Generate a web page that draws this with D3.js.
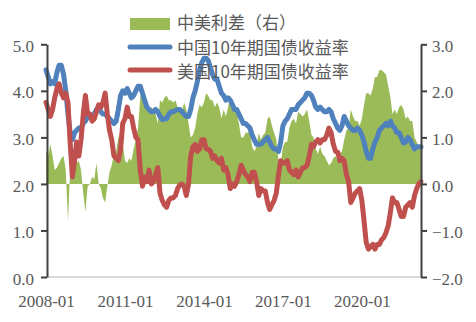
<!DOCTYPE html>
<html><head><meta charset="utf-8">
<script src="https://cdn.jsdelivr.net/npm/d3@7"></script>
<style>body{margin:0;background:#fff}</style>
</head><body>
<svg id="c" width="476" height="322"></svg>
<script>
// ---- data (monthly, 2008-01 .. 2022-04) ----
const startMonth = "2008-01";
const endMonth = "2022-04";
const cn10y = [
4.45,4.30,4.15,4.20,4.15,4.40,4.55,4.55,4.35,4.00,3.50,3.10,
2.95,3.10,3.15,3.20,3.20,3.30,3.35,3.45,3.50,3.45,3.50,3.60,
3.65,3.55,3.50,3.50,3.45,3.40,3.35,3.30,3.35,3.60,3.90,4.00,
3.95,4.05,3.95,3.85,3.90,4.00,4.10,4.10,3.95,3.80,3.65,3.60,
3.55,3.55,3.60,3.55,3.45,3.38,3.40,3.40,3.50,3.55,3.55,3.58,
3.60,3.60,3.55,3.50,3.45,3.45,3.60,3.85,4.00,4.20,4.45,4.60,
4.70,4.70,4.65,4.50,4.35,4.25,4.25,4.10,3.95,3.90,3.80,3.85,
3.80,3.70,3.60,3.60,3.50,3.40,3.30,3.30,3.25,3.20,3.05,2.95,
2.85,2.85,2.85,2.90,2.95,3.00,2.90,2.80,2.75,2.75,2.70,2.90,
3.25,3.35,3.40,3.50,3.60,3.60,3.60,3.70,3.75,3.80,3.85,3.95,
3.95,3.90,3.80,3.65,3.60,3.65,3.60,3.55,3.55,3.60,3.55,3.40,
3.30,3.20,3.15,3.25,3.45,3.35,3.25,3.20,3.15,3.15,3.20,3.15,
3.05,2.90,2.70,2.55,2.55,2.75,2.90,3.00,3.15,3.20,3.25,3.30,
3.25,3.35,3.25,3.20,3.10,3.10,3.00,2.88,2.90,3.00,2.95,2.85,
2.75,2.80,2.80,2.80];
const us10y = [
3.75,3.60,3.45,3.60,3.85,4.05,4.15,3.95,3.85,3.95,3.75,2.90,
2.15,2.50,2.90,2.60,2.95,3.50,3.90,3.50,3.50,3.35,3.40,3.55,
3.70,3.65,3.75,3.95,3.50,3.15,2.95,2.60,2.55,2.50,2.75,3.30,
3.40,3.65,3.45,3.45,3.20,3.00,2.95,2.30,1.95,2.15,2.05,2.30,
2.00,2.05,2.20,2.35,1.80,1.65,1.55,1.50,1.65,1.70,1.70,1.75,
1.90,1.98,2.00,1.95,1.75,2.00,2.60,2.80,2.85,2.70,2.75,2.95,
2.95,2.75,2.75,2.70,2.55,2.60,2.50,2.45,2.55,2.30,2.35,2.20,
1.90,2.00,1.95,2.05,2.20,2.40,2.30,2.20,2.15,2.05,2.25,2.25,
2.05,1.75,1.90,1.85,1.85,1.60,1.45,1.55,1.65,1.80,2.20,2.50,
2.45,2.45,2.50,2.30,2.25,2.20,2.30,2.15,2.25,2.35,2.35,2.40,
2.60,2.85,2.80,2.90,2.95,2.88,2.95,2.95,3.05,3.20,3.10,2.85,
2.70,2.68,2.50,2.55,2.50,2.20,2.05,1.60,1.70,1.80,1.85,1.90,
1.65,1.20,0.75,0.60,0.65,0.70,0.60,0.70,0.70,0.80,0.85,0.95,
1.10,1.40,1.70,1.60,1.60,1.45,1.30,1.30,1.50,1.55,1.60,1.50,
1.75,1.90,2.00,2.05];
const spread = [
0.70,0.60,0.85,0.60,0.30,0.35,0.45,0.55,0.60,0.30,-0.80,0.30,
0.80,0.60,0.45,0.50,0.30,-0.20,-0.60,-0.05,0.00,0.15,0.10,0.45,
0.00,-0.10,-0.30,-0.40,-0.05,0.25,0.40,0.65,0.70,1.00,1.10,0.85,
0.50,0.45,0.55,0.50,0.75,0.95,1.20,1.85,2.15,1.70,1.75,1.55,
1.65,1.60,1.50,1.30,1.80,1.75,1.85,1.90,1.80,1.80,1.75,1.80,
1.65,1.60,1.55,1.75,1.60,1.30,1.00,1.05,1.20,1.50,1.70,1.65,
1.75,1.95,1.90,1.80,1.80,1.65,1.75,1.65,1.40,1.60,1.45,1.65,
1.90,1.70,1.65,1.55,1.30,1.00,1.00,1.10,1.10,1.15,0.80,0.70,
0.80,1.10,0.95,1.05,1.10,1.40,1.45,1.25,1.10,0.95,0.50,0.40,
0.80,0.90,0.90,1.20,1.35,1.40,1.30,1.55,1.50,1.45,1.50,1.60,
1.35,1.05,1.00,0.75,0.65,0.80,0.65,0.60,0.50,0.40,0.45,0.55,
0.60,0.50,0.65,0.70,0.95,1.15,1.20,1.60,1.45,1.35,1.35,1.25,
1.40,1.70,1.95,1.95,1.90,2.05,2.30,2.30,2.45,2.45,2.40,2.35,
2.10,1.85,1.50,1.60,1.50,1.65,1.70,1.60,1.40,1.45,1.35,1.35,
1.00,0.90,0.80,0.75];
const xTickLabels = ["2008-01","2011-01","2014-01","2017-01","2020-01"];
const leftTicks = [0,1,2,3,4,5];
const rightTicks = [-2,-1,0,1,2,3];
const seriesNames = ["中美利差（右）","中国10年期国债收益率","美国10年期国债收益率"];

// ---- styles ----
const GREEN = "#9BBB59", BLUE = "#4F81BD", RED = "#C0504D";
const AXIS = "#404040", TXT = "#595959";
const NUMFONT = "'Liberation Serif', serif";
const CJKFONT = "'Noto Sans CJK SC', sans-serif";

const parseM = d3.timePeriod ? null : null;
const pm = d3.timeParse("%Y-%m");
const months = d3.timeMonth.range(pm(startMonth), d3.timeMonth.offset(pm(endMonth), 1));

const svg = d3.select("#c");
const x = d3.scaleTime().domain([pm(startMonth), pm(endMonth)]).range([46, 421]);
const yL = d3.scaleLinear().domain([0, 5]).range([277, 44.3]);
const yR = d3.scaleLinear().domain([-2, 3]).range([277, 44.3]);

// baseline
svg.append("line").attr("x1", 47).attr("x2", 421).attr("y1", yL(0)).attr("y2", yL(0))
  .attr("stroke", "#d9d9d9").attr("stroke-width", 2);

// green area (right axis)
const area = d3.area().x((d, i) => x(months[i])).y0(yR(0)).y1(d => yR(d));
svg.append("path").datum(spread).attr("d", area).attr("fill", GREEN);

// lines (left axis)
const line = d3.line().x((d, i) => x(months[i])).y(d => yL(d));
svg.append("path").datum(cn10y).attr("d", line).attr("fill", "none")
  .attr("stroke", BLUE).attr("stroke-width", 5).attr("stroke-linejoin", "round").attr("stroke-linecap", "round");
svg.append("path").datum(us10y).attr("d", line).attr("fill", "none")
  .attr("stroke", RED).attr("stroke-width", 5).attr("stroke-linejoin", "round").attr("stroke-linecap", "round");

// axes
function styleAxis(g) {
  g.select(".domain").attr("stroke", AXIS).attr("stroke-width", 2);
  g.selectAll(".tick line").attr("stroke", AXIS).attr("stroke-width", 2);
  g.selectAll(".tick text").attr("fill", TXT).attr("font-family", NUMFONT).attr("font-size", 17).attr("dy", "0.42em");
}
const fmt = d3.format(".1f");
svg.append("g").attr("transform", "translate(47,0)")
  .call(d3.axisLeft(yL).tickValues(leftTicks).tickFormat(d => fmt(d)).tickSize(6).tickSizeOuter(0).tickPadding(7))
  .call(styleAxis);
svg.append("g").attr("transform", "translate(421,0)")
  .call(d3.axisRight(yR).tickValues(rightTicks).tickFormat(d => fmt(d)).tickSize(6).tickSizeOuter(0).tickPadding(5))
  .call(styleAxis);
const xg = svg.append("g").attr("transform", "translate(0,277)")
  .call(d3.axisBottom(x).tickValues(xTickLabels.map(pm)).tickFormat(d3.timeFormat("%Y-%m")).tickSize(0).tickPadding(17.5));
xg.select(".domain").remove();
xg.selectAll(".tick text").attr("fill", TXT).attr("font-family", NUMFONT).attr("font-size", 17);

// legend
const lg = svg.append("g");
lg.append("rect").attr("x", 130).attr("y", 18).attr("width", 40).attr("height", 12).attr("fill", GREEN);
[[BLUE, 47], [RED, 70]].forEach(([c, yy]) => {
  lg.append("line").attr("x1", 130).attr("x2", 170).attr("y1", yy).attr("y2", yy)
    .attr("stroke", c).attr("stroke-width", 5).attr("stroke-linecap", "round");
});
seriesNames.forEach((n, i) => {
  lg.append("text").attr("x", 177).attr("y", [29.2, 54.2, 78.2][i]).text(n)
    .attr("fill", TXT).attr("font-family", CJKFONT).attr("font-size", 17);
});
</script>
</body></html>
